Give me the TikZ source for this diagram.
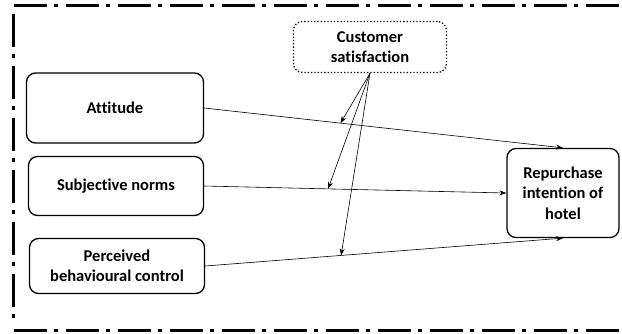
\documentclass[tikz,border=0pt]{standalone}
\usepackage{fontspec}
\setmainfont{Carlito}[Ligatures = NoCommon]
\usetikzlibrary{arrows.meta}

\begin{document}
\begin{tikzpicture}[
            x = 1pt, y = -1pt, % pixel-like units, y going down
            > = {Stealth[length = 7pt, width = 5pt]}, % arrow head style
            semithick, % line style
            font = \fontsize{16.5}{20.5}\selectfont\bfseries
        ]

        \tikzstyle{factor}=[
            draw = black,
            line width = 1.3pt,
            rounded corners = 9pt,
            align = center,
            inner sep = 2pt
        ]
        \tikzstyle{moderator}=[factor, dotted]
        \tikzstyle{frame}=[
            line width = 3pt,
            dash pattern = on 33pt off 7pt on 4pt off 8pt
        ]

    \useasboundingbox (0,0) rectangle (622,333);

    % Frame around the model
    \draw[frame] (14,5) -- (622,5);
    \draw[frame] (13,14) -- (13,322);
    \draw[frame] (14,330) -- (622,330);

    % Define the nodes and their positions
    \node[factor, minimum width = 177pt, minimum height = 70pt] (att) at (115,108) {Attitude};
    \node[factor, minimum width = 175pt, minimum height = 59pt] (sn) at (116,186) {Subjective norms};
    \node[factor, minimum width = 175pt, minimum height = 55pt] (pbc) at (117,266) {Perceived\\behavioural control};
    \node[factor, minimum width = 112pt, minimum height = 89pt] (rep) at (563,193) {Repurchase\\intention of\\hotel};
    \node[moderator, minimum width = 153pt, minimum height = 51pt] (cs) at (370,47) {Customer\\satisfaction};

    % Draw edges between nodes
    \path[->] (att.east) edge node[pos = 0.38, coordinate] (m1) {} (rep.north);
    \path[->] (sn.east) edge node[pos = 0.41, coordinate] (m2) {} (rep.west);
    \path[->] (pbc.east) edge node[pos = 0.38, coordinate] (m3) {} (rep.south);
    \path[->] (cs.south) edge node {} (m1);
    \path[->] (cs.south) edge node {} (m2);
    \path[->] (cs.south) edge node {} (m3);
\end{tikzpicture}
\end{document}
